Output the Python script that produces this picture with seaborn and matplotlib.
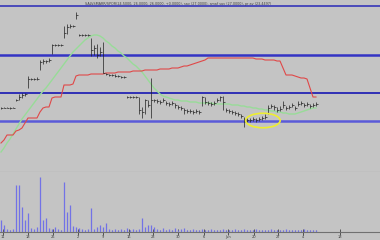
import numpy as np
import pandas as pd
import matplotlib
matplotlib.use("Agg")
import matplotlib.pyplot as plt
import seaborn as sns
from matplotlib.patches import Ellipse

# ---------------- data ----------------
close = [29.2, 29.2, 29.2, 29.2, 29.2,
         30.0, 30.3, 30.5, 30.6,
         32.1, 32.1, 32.1, 32.1,
         33.8, 33.9, 33.9, 34.0,
         35.5, 35.5, 35.5, 35.5,
         36.7, 37.3, 37.4, 37.4,
         38.5,
         36.5, 36.5, 36.5, 36.5,
         35.0, 35.2, 34.5, 34.8,
         32.7,
         32.6, 32.5, 32.5, 32.4, 32.4, 32.3, 32.3,
         30.3, 30.3, 30.3, 30.3,
         29.0, 28.8, 30.0, 29.5, 30.0,
         30.0, 29.9, 29.8, 30.0, 29.7, 29.6, 29.7, 29.5, 29.3,
         29.2, 29.0, 28.9, 28.9, 28.8, 28.9, 28.8,
         30.3, 29.8, 29.7, 29.6, 29.7, 30.0, 30.3, 29.8,
         29.0, 28.9, 28.8, 28.7, 28.6, 28.4,
         28.1, 28.0, 28.0, 28.1, 28.0, 28.1, 28.2, 28.3,
         29.2, 29.4, 29.3, 29.0, 29.1,
         29.5, 29.2, 29.3, 29.5, 29.2,
         29.6, 29.7, 29.5, 29.6, 29.4, 29.5, 29.6]

high = [29.3, 29.3, 29.3, 29.3, 29.3,
        30.1, 30.6, 30.7, 30.7,
        32.4, 32.2, 32.2, 32.3,
        34.0, 34.1, 34.0, 34.2,
        35.6, 35.6, 35.6, 35.6,
        37.4, 37.6, 37.6, 37.5,
        38.8,
        36.6, 36.6, 36.6, 36.6,
        36.2, 35.5, 35.6, 35.3,
        35.8,
        32.7, 32.6, 32.6, 32.6, 32.5, 32.4, 32.4,
        30.4, 30.4, 30.4, 30.4,
        30.3, 29.3, 30.1, 30.0, 32.2,
        30.1, 30.1, 30.0, 30.2, 29.9, 29.8, 29.9, 29.7, 29.5,
        29.4, 29.2, 29.1, 29.1, 29.0, 29.1, 29.0,
        30.4, 30.3, 29.9, 29.8, 29.9, 30.2, 30.4, 30.4,
        29.2, 29.1, 29.0, 28.9, 28.8, 28.6,
        28.3, 28.2, 28.2, 28.3, 28.2, 28.3, 28.4, 28.6,
        29.5, 29.6, 29.5, 29.3, 29.4,
        29.9, 29.4, 29.5, 29.7, 29.4,
        29.9, 29.9, 29.7, 29.8, 29.6, 29.7, 29.8]

low = [29.1, 29.2, 29.2, 29.1, 29.2,
       29.9, 30.0, 30.2, 30.4,
       31.2, 32.0, 32.0, 32.0,
       33.0, 33.6, 33.7, 33.8,
       34.6, 35.4, 35.4, 35.4,
       36.2, 36.6, 37.2, 37.3,
       38.1,
       36.4, 36.4, 36.4, 36.4,
       34.4, 34.5, 34.2, 34.4,
       32.7,
       32.5, 32.4, 32.4, 32.3, 32.3, 32.2, 32.2,
       30.2, 30.2, 30.2, 30.2,
       28.6, 28.2, 28.6, 29.3, 28.2,
       29.8, 29.7, 29.6, 29.8, 29.5, 29.4, 29.5, 29.2, 29.1,
       29.0, 28.6, 28.7, 28.7, 28.6, 28.7, 28.6,
       29.4, 29.6, 29.5, 29.4, 29.5, 29.8, 29.9, 29.0,
       28.8, 28.7, 28.6, 28.5, 28.4, 28.2,
       27.3, 27.8, 27.8, 27.9, 27.8, 27.9, 28.0, 28.1,
       28.6, 29.2, 29.0, 28.8, 28.9,
       29.2, 29.0, 29.1, 29.3, 29.0,
       29.4, 29.5, 29.3, 29.4, 29.2, 29.3, 29.4]

red_stop = [25.7, 26.0, 26.5, 26.5, 26.5, 26.9, 27.0, 27.2, 27.7, 28.2,
            28.2, 28.2, 28.2, 28.8, 29.2, 29.3, 29.3, 30.2, 30.3, 30.3,
            30.3, 31.5, 31.5, 31.5, 31.6, 32.4, 32.5, 32.5, 32.5, 32.5,
            32.6, 32.6, 32.6, 32.6, 32.6,
            32.7, 32.7, 32.7, 32.7, 32.8, 32.8, 32.8, 32.8, 32.8, 32.9,
            32.9, 32.9, 32.9, 33.0, 33.0, 33.0, 33.0, 33.0, 33.1, 33.1,
            33.1, 33.1, 33.2, 33.2, 33.2,
            33.3, 33.4, 33.4, 33.5, 33.6, 33.7, 33.8, 33.9, 34.0, 34.2,
            34.2, 34.2, 34.2, 34.2, 34.2, 34.2, 34.2, 34.2, 34.2, 34.2,
            34.2, 34.2, 34.2, 34.2, 34.2,
            34.1, 34.1, 34.1, 34.0, 34.0, 34.0, 34.0, 33.9, 33.9,
            33.2, 32.5, 32.5, 32.5, 32.4, 32.3, 32.2, 32.2, 32.1, 31.2,
            30.3, 30.3]

green_avg = [24.8, 25.2, 25.7, 26.1, 26.6, 27.1, 27.6, 28.1, 28.5, 28.9,
             29.3, 29.7, 30.1, 30.5, 30.9, 31.2, 31.6, 32.0, 32.4, 32.8,
             33.2, 33.6, 34.0, 34.4, 34.8, 35.1, 35.4, 35.7, 36.0, 36.2,
             36.4, 36.5, 36.5, 36.4, 36.2, 35.9, 35.7, 35.4, 35.2, 34.9,
             34.7, 34.4, 34.2, 33.9, 33.6, 33.4, 33.1, 32.8, 32.4, 32.0,
             31.6, 31.2, 30.9, 30.6, 30.4, 30.3, 30.2, 30.1, 30.0, 30.0,
             29.9,
             29.9, 29.9, 29.8, 29.8, 29.8, 29.7,
             29.7, 29.7, 29.7, 29.7, 29.6, 29.6, 29.6, 29.6, 29.6, 29.6,
             29.5, 29.5, 29.5, 29.4,
             29.4, 29.3, 29.3, 29.2, 29.2, 29.1, 29.1, 29.0, 29.0, 28.9,
             28.9, 28.8, 28.8,
             28.7, 28.7, 28.6, 28.6, 28.6, 28.7, 28.8, 28.9, 29.0, 29.1,
             29.2, 29.2]

volume = [12, 7, 3, 2, 3, 47, 47, 25, 12, 19,
          4, 3, 5, 55, 12, 14, 4, 3, 5, 3,
          2, 50, 20, 27, 6, 5, 4, 3, 2, 3,
          24, 3, 5, 7, 5, 9, 3, 2, 3, 2,
          3, 2, 4, 2, 3, 2, 3, 14, 5, 7,
          7, 5, 3, 2, 4, 2, 3, 2, 4, 2,
          3, 4, 2, 2, 3, 2, 2, 3, 2, 2,
          3, 2, 2, 2, 3, 2, 2, 2, 3, 2,
          2, 3, 2, 2, 2, 3, 2, 2, 2, 2,
          3, 2, 2, 2, 2, 3, 2, 2, 2, 2,
          2, 3, 2, 2, 2, 2]

levels = [39.4, 34.5, 30.7, 27.9]
tick_labels = ["11", "18", "25", "2", "9", "16", "23", "30", "6", "Jun", "20", "27", "4", "18"]
tick_pos = [0.7, 9.0, 17.4, 25.7, 34.1, 42.7, 50.8, 59.1, 67.5, 75.8, 84.2, 92.3, 100.6, 113.0]
title = ("SALVSMARR/SPOR(24.5000, 26.0000, 26.0000, +0.0000), sav (27.0000), "
         "smaf sav (27.0000), pr av (23.4497)")

# ---------------- figure ----------------
bg = "#C4C4C4"
df = pd.DataFrame(dict(bar=np.arange(len(close)), close=close, high=high, low=low,
                       stop=red_stop, avg=green_avg, vol=volume))

fig = plt.figure(figsize=(3.8, 2.4), dpi=100, facecolor=bg)
ax1 = fig.add_axes([0, 68 / 240, 1, 172 / 240], facecolor=bg)
ax2 = fig.add_axes([0, 8 / 240, 1, 60 / 240], facecolor=bg)

xlim = (-0.33, 126.33)

# horizontal levels
lev_style = [("#2A2AB8", 1.1), ("#3434C4", 1.8), ("#2424B4", 1.3), ("#5A5AD8", 1.8)]
for lv, (c, w) in zip(levels, lev_style):
    ax1.axhline(lv, color=c, lw=w, zorder=1)

sns.lineplot(data=df, x="bar", y="avg", color="#98DC98", lw=1.0, ax=ax1, zorder=2)
sns.lineplot(data=df, x="bar", y="stop", color="#E04848", lw=0.8, ax=ax1, zorder=3)

ax1.vlines(df["bar"], df["low"], df["high"], color="#202020", lw=0.5, zorder=4)
ax1.hlines(df["close"], df["bar"], df["bar"] + 0.8, color="#202020", lw=0.5, zorder=4)

ax1.add_patch(Ellipse((87.3, 27.95), 11.5, 1.45, fill=False, ec="#EEEE30", lw=1.2, zorder=5))

ax1.set_xlim(*xlim)
ax1.set_ylim(22.8, 40.0)
ax1.set_xticks([]); ax1.set_yticks([])
ax1.set_xlabel(""); ax1.set_ylabel("")
for s in ["top", "left", "right"]:
    ax1.spines[s].set_visible(False)
ax1.spines["bottom"].set_color("#8A8A8A")
ax1.spines["bottom"].set_linewidth(0.8)

fig.text(85 / 380, 1 - 3.5 / 240, title, fontsize=2.4, color="#404040",
         ha="left", va="center")

# volume
ax2.vlines(df["bar"], 0, df["vol"], color="#7272E6", lw=0.9)
ax2.set_xlim(*xlim)
ax2.set_ylim(0, 60)
ax2.set_yticks([])
ax2.set_xticks(tick_pos)
ax2.set_xticklabels(tick_labels, fontsize=2.6, color="#404040")
ax2.set_xticks(np.arange(len(close)), minor=True)
ax2.tick_params(axis="x", which="major", direction="inout", length=4, width=0.6,
                color="#404040", pad=0.5)
ax2.tick_params(axis="x", which="minor", direction="in", length=1.5, width=0.4,
                color="#606060")
for s in ["top", "left", "right"]:
    ax2.spines[s].set_visible(False)
ax2.spines["bottom"].set_color("#707070")
ax2.spines["bottom"].set_linewidth(0.8)

fig.savefig("out.png", dpi=100, facecolor=bg)
